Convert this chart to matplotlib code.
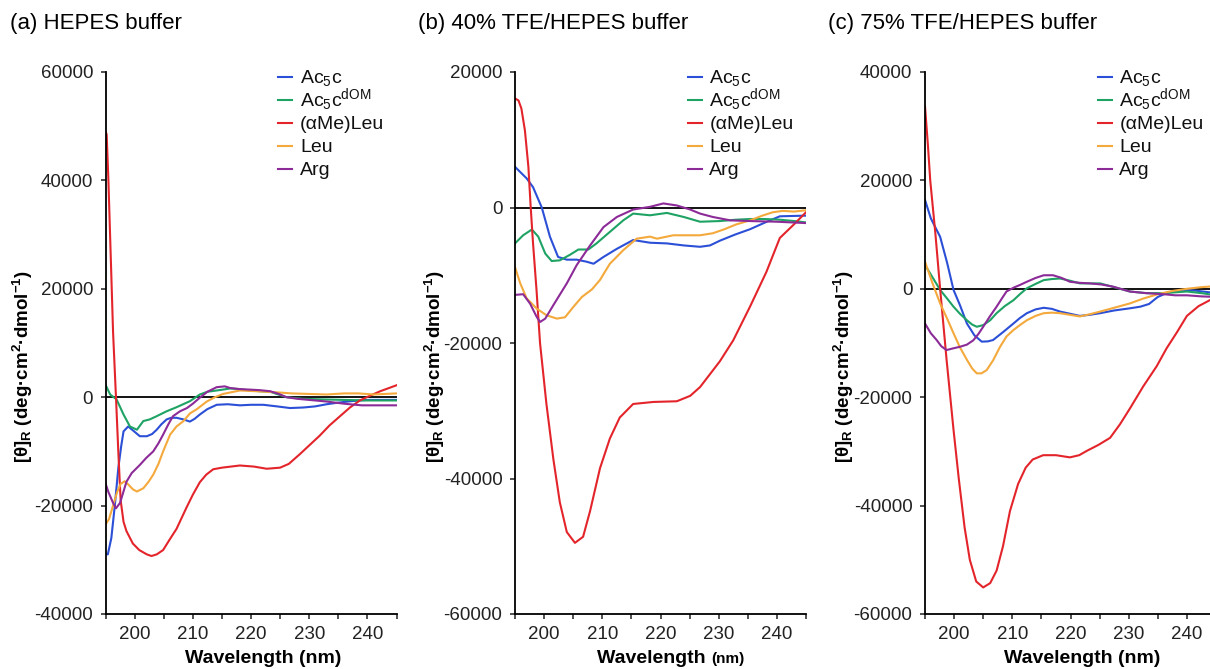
import matplotlib
matplotlib.use('Agg')
import matplotlib.pyplot as plt
from matplotlib.ticker import MultipleLocator, FuncFormatter

plt.rcParams['font.family'] = ['Liberation Sans', 'DejaVu Sans']
plt.rcParams['mathtext.fontset'] = 'custom'
plt.rcParams['mathtext.rm'] = 'Liberation Sans'
plt.rcParams['mathtext.it'] = 'Liberation Sans:italic'
plt.rcParams['mathtext.bf'] = 'Liberation Sans:bold'
plt.rcParams['axes.unicode_minus'] = False

# ---- data (wavelength nm, [theta]R) ----
SERIES = ['Ac$_5$c', 'Ac$_5$c$^{\\mathrm{dOM}}$', '(αMe)Leu', 'Leu', 'Arg']
COLORS = ['#2b4fd6', '#1ea364', '#e3252b', '#f4a93c', '#8c2b98']

# (a) HEPES buffer
a_ac5c_x = [195, 195.4, 196, 196.6, 197.2, 197.7, 198.1, 198.9, 199.8, 200.9, 202.1, 203.0, 203.8, 204.6,
            205.5, 206.3, 207.2, 208.4, 209.5, 210.3, 211.2, 212.5, 214.1, 216, 218.1, 220, 222.1, 224.5,
            226.7, 229, 231, 233, 235, 237.5, 240, 242.5, 245]
a_ac5c_y = [-28900, -29000, -26000, -20000, -13100, -9000, -6300, -5400, -6200, -7200, -7200, -6800, -6000,
            -5000, -4100, -3800, -3800, -4100, -4500, -4000, -3200, -2200, -1400, -1300, -1500, -1400, -1400,
            -1700, -2000, -1900, -1700, -1300, -1000, -700, -500, -500, -500]
a_dom_x = [195, 195.8, 196.9, 198.1, 199.2, 200.4, 201.5, 202.6, 203.8, 205.5, 207.2, 209.5, 211.2, 212.5,
           214.1, 216.4, 218, 219.8, 221.5, 223.3, 226.1, 229, 232, 236, 240, 245]
a_dom_y = [2300, 500, -400, -3200, -5400, -6000, -4400, -4100, -3500, -2600, -1850, -740, 500, 1000,
           1240, 1600, 1500, 1240, 1100, 1000, 0, -300, -400, -500, -600, -600]
a_meleu_x = [195, 195.2, 195.5, 195.9, 196.3, 196.8, 197.2, 197.6, 198.1, 198.6, 199.7, 200.8, 202.1, 202.9,
             203.8, 204.9, 206, 207.2, 208.9, 210, 211.2, 212.3, 213.5, 215, 218.1, 220.5, 222.7, 225,
             226.5, 228.4, 230, 231.8, 233.5, 235.3, 237, 238.7, 240.5, 242.2, 245]
a_meleu_y = [49000, 48500, 40000, 26000, 12000, 0, -10000, -19000, -23000, -24700, -27000, -28200, -29000,
             -29300, -29000, -28200, -26300, -24300, -20400, -18000, -15700, -14300, -13300, -13000, -12600,
             -12800, -13200, -13000, -12300, -10500, -8900, -7100, -5200, -3500, -1900, -600, 300, 1100, 2200]
a_leu_x = [195, 195.6, 196.3, 197, 197.6, 198.3, 199, 199.7, 200.4, 201.5, 202.4, 203.2, 204.1, 204.9,
           206.1, 207.2, 208.4, 209.5, 210.7, 212.4, 213.8, 215.2, 218.1, 221, 224.4, 227, 230, 233,
           236, 238.5, 241, 245]
a_leu_y = [-23500, -22500, -20000, -17500, -16000, -15500, -16200, -17000, -17400, -16800, -15600, -14300,
           -12300, -10000, -6900, -5400, -4400, -3000, -2200, -800, 0, 600, 1240, 1100, 900, 700, 600, 500,
           700, 700, 500, 700]
a_arg_x = [195, 195.5, 196.3, 196.8, 197.5, 198.6, 199.5, 200.9, 202, 203.2, 204.1, 204.9, 205.8, 206.6,
           207.8, 209, 210, 211.2, 212.5, 214.1, 215.5, 216.4, 218, 219.8, 221.5, 223.3, 224.8, 226.1,
           228, 230, 233, 236, 239, 242, 245]
a_arg_y = [-15900, -17500, -19500, -20500, -19500, -15600, -14000, -12500, -11200, -10000, -8500, -6900,
           -5000, -3500, -2600, -2000, -1200, -100, 1000, 1850, 2000, 1700, 1500, 1400, 1300, 1100, 600, 0,
           -300, -500, -800, -1200, -1500, -1500, -1500]

# (b) 40% TFE/HEPES buffer
b_ac5c_x = [195, 197, 198.1, 199.6, 201, 202.4, 203.9, 205.6, 207.3, 208.5, 210.2, 212.5, 215.3, 218.2,
            221.1, 224, 226.8, 228.5, 230.2, 232.8, 235.4, 238, 240.5, 245]
b_ac5c_y = [6000, 4300, 3000, 0, -4300, -7300, -7700, -7700, -8000, -8300, -7300, -6100, -4800, -5200,
            -5300, -5600, -5800, -5600, -4900, -4000, -3200, -2200, -1300, -1200]
b_dom_x = [195, 196.4, 197.9, 199, 200.2, 201.3, 202.7, 204.4, 205.9, 207.6, 209, 211.3, 213.6, 215.3,
           218.2, 221.1, 224, 226.8, 230.2, 233, 235.4, 238, 240.5, 243, 245]
b_dom_y = [-5300, -4100, -3250, -4300, -6800, -7900, -7800, -7000, -6200, -6200, -5300, -3600, -1900, -900,
           -1150, -800, -1400, -2100, -2000, -1800, -1700, -1700, -1800, -2000, -2200]
b_meleu_x = [195, 195.6, 196.1, 196.7, 197.3, 197.7, 198.1, 198.7, 199.3, 200.4, 201.6, 202.7, 203.9, 205.3,
             206.7, 207.9, 209.6, 211.3, 213, 215.3, 218.8, 222.8, 225.1, 226.8, 230.2, 232.5, 235.4, 238.2,
             240.5, 242.8, 245]
b_meleu_y = [16100, 15800, 14600, 11400, 6000, 0, -5300, -12200, -20000, -29000, -37200, -43500, -47900,
             -49500, -48600, -44800, -38500, -34100, -31000, -29000, -28700, -28600, -27800, -26500, -22700,
             -19600, -14600, -9500, -4500, -2600, -700]
b_leu_x = [195, 195.9, 197, 198.7, 200.4, 202.2, 203.6, 205, 206.5, 208.2, 209.6, 211.3, 213.6, 215.9,
           218.2, 219.4, 222.2, 224.5, 226.8, 229, 231, 233, 235.4, 237.5, 239.3, 241, 243, 245]
b_leu_y = [-8800, -11200, -13400, -14900, -15900, -16400, -16200, -14700, -13200, -12100, -10700, -8300,
           -6300, -4600, -4300, -4600, -4100, -4100, -4100, -3800, -3200, -2500, -1900, -1200, -700, -500,
           -600, -400]
b_arg_x = [195, 196.4, 197.6, 198.7, 199.3, 200.2, 201.6, 203.9, 205.6, 207.9, 210.2, 212.5, 215.3, 218.2,
           220.5, 222.8, 225.1, 226.8, 229, 232, 235.4, 240, 245]
b_arg_y = [-12900, -12800, -14200, -16100, -16900, -16400, -14400, -11200, -8500, -5600, -2900, -1400, -300,
           100, 600, 300, -300, -900, -1400, -1900, -2000, -2100, -2300]

# (c) 75% TFE/HEPES buffer
c_ac5c_x = [195, 196, 197.6, 198.8, 199.9, 201, 202.2, 203.5, 204.75, 205.8, 206.7, 208.4, 210.2, 211.3,
            212.5, 214, 215.4, 216.8, 218.2, 219.9, 221.6, 223.3, 225.1, 227.5, 230.2, 232, 233.5, 235,
            236.5, 238, 240, 242, 245]
c_ac5c_y = [16400, 13000, 9600, 4800, -200, -3000, -6400, -8600, -9750, -9700, -9450, -8000, -6400, -5400,
            -4500, -3800, -3500, -3700, -4200, -4600, -5000, -4800, -4500, -4000, -3600, -3300, -2800, -1500,
            -800, -400, -200, -400, -800]
c_dom_x = [195, 196.3, 197.6, 198.8, 199.9, 201, 202.2, 203.1, 203.9, 205, 206.2, 207.3, 208.7, 210.2,
           211.3, 212.5, 214, 215.4, 216.8, 218.2, 219.9, 221.6, 223.3, 225.1, 227.5, 230.2, 233, 236, 240,
           242.5, 245]
c_dom_y = [4400, 2100, -200, -1800, -3300, -4600, -5800, -6600, -7000, -6700, -5800, -4500, -3200, -2100,
           -1000, 100, 900, 1600, 1800, 1900, 1500, 1000, 1000, 1000, 300, -500, -800, -800, -500, -800,
           -1200]
c_meleu_x = [195, 195.5, 195.9, 196.8, 197.6, 198.7, 199.9, 200.8, 201.8, 202.7, 203.8, 205, 206.2, 207.3,
             208.4, 209.6, 211, 212.3, 213.5, 215.3, 217.5, 219.9, 221.5, 222.8, 224.8, 226.8, 228.5, 230.2,
             232.5, 234.8, 236.5, 238.3, 240, 242, 245]
c_meleu_y = [33700, 26500, 20000, 10000, 0, -13000, -26000, -35000, -44000, -50000, -54000, -55100, -54300,
             -52000, -47500, -41000, -36000, -33000, -31500, -30700, -30700, -31100, -30700, -29900, -28800,
             -27500, -25000, -22100, -18000, -14300, -11000, -8000, -5000, -3200, -1500]
c_leu_x = [195, 196.3, 197.6, 198.8, 199.9, 201, 202.2, 203.1, 203.9, 204.7, 205.6, 206.7, 207.9, 209,
           210.2, 211.3, 212.5, 214, 215.4, 216.8, 218.2, 219.9, 221.6, 223.3, 225.1, 227.5, 230.2, 232.5,
           235, 237.5, 240, 242.5, 245]
c_leu_y = [5000, 1000, -2700, -5500, -8200, -10800, -13100, -14700, -15600, -15600, -15000, -13200, -10700,
           -8800, -7600, -6700, -5800, -5000, -4500, -4400, -4500, -4800, -5100, -4700, -4200, -3500, -2700,
           -1800, -1000, -400, 0, 300, 500]
c_arg_x = [195, 196, 197, 197.8, 198.7, 199.8, 201, 202.2, 203.3, 204.2, 205, 206.2, 207.3, 208.2, 209,
           210.2, 211.3, 212.5, 214, 215.4, 217, 218.5, 219.9, 221.6, 223.3, 225.3, 227.3, 230.2, 233, 236,
           238, 240, 242.5, 245]
c_arg_y = [-6400, -8200, -9450, -10600, -11300, -11000, -10700, -10300, -9500, -8300, -7000, -5000, -3300,
           -1800, -500, 200, 700, 1300, 2000, 2500, 2500, 2000, 1300, 1100, 1000, 800, 400, -500, -800,
           -1000, -1200, -1200, -1400, -1500]

PANELS = [
    {'title': '(a) HEPES buffer', 'ylim': (-40000, 60000), 'left': 105.5, 'title_x': 10, 'ylab_x': -0.242,
     'small_nm': False,
     'curves': [(a_ac5c_x, a_ac5c_y), (a_dom_x, a_dom_y), (a_meleu_x, a_meleu_y),
                (a_leu_x, a_leu_y), (a_arg_x, a_arg_y)]},
    {'title': '(b) 40% TFE/HEPES buffer', 'ylim': (-60000, 20000), 'left': 515, 'title_x': 418, 'ylab_x': -0.232,
     'small_nm': True,
     'curves': [(b_ac5c_x, b_ac5c_y), (b_dom_x, b_dom_y), (b_meleu_x, b_meleu_y),
                (b_leu_x, b_leu_y), (b_arg_x, b_arg_y)]},
    {'title': '(c) 75% TFE/HEPES buffer', 'ylim': (-60000, 40000), 'left': 925, 'title_x': 828, 'ylab_x': -0.236,
     'small_nm': False,
     'curves': [(c_ac5c_x, c_ac5c_y), (c_dom_x, c_dom_y), (c_meleu_x, c_meleu_y),
                (c_leu_x, c_leu_y), (c_arg_x, c_arg_y)]},
]

W, H = 1210, 669
AX_PX_W, AX_TOP, AX_BOT = 291, 72, 614
fig = plt.figure(figsize=(W / 100, H / 100), dpi=100)

ax_w = AX_PX_W / W
ax_b = (H - AX_BOT) / H
ax_h = (AX_BOT - AX_TOP) / H
ax_hpx = AX_BOT - AX_TOP


def xfmt(v, pos):
    return f'{int(round(v))}' if int(round(v)) % 10 == 0 else ''


def px_y(py):
    # figure pixel row -> axes fraction
    return (AX_BOT - py) / ax_hpx


axes = []
for p in PANELS:
    ax = fig.add_axes([p['left'] / W, ax_b, ax_w, ax_h])
    axes.append(ax)
    ax.axhline(0, color='black', lw=1.3, zorder=1.5)
    for (xs, ys), name, col in zip(p['curves'], SERIES, COLORS):
        ax.plot(xs, ys, color=col, lw=1.5, zorder=2)
    ax.set_xlim(195, 245)
    ax.set_ylim(*p['ylim'])
    ax.xaxis.set_major_locator(MultipleLocator(5))
    ax.xaxis.set_major_formatter(FuncFormatter(xfmt))
    ax.yaxis.set_major_locator(MultipleLocator(20000))
    ax.yaxis.set_major_formatter(FuncFormatter(lambda v, pos: f'{int(v)}'))
    for s in ['top', 'right']:
        ax.spines[s].set_visible(False)
    for s in ['left', 'bottom']:
        ax.spines[s].set_linewidth(1.3)
    ax.tick_params(direction='out', length=3.5, width=1.1, labelsize=13.5, colors='#222222')
    ax.tick_params(axis='y', pad=5.5)
    ax.tick_params(axis='x', pad=5)

    # x label, drawn as text on a fixed baseline (panel b has a smaller "(nm)")
    if p['small_nm']:
        t1 = ax.text(0.282, px_y(663), 'Wavelength ', transform=ax.transAxes, fontsize=14,
                     fontweight='bold', ha='left', va='baseline')
        p['_xl'] = t1
    else:
        ax.text(0.541, px_y(663), 'Wavelength (nm)', transform=ax.transAxes, fontsize=14,
                fontweight='bold', ha='center', va='baseline')

    ax.set_ylabel(r'[θ]$_{\mathbf{R}}$ (deg·cm$^{\mathbf{2}}$·dmol$^{\mathbf{-1}}$)',
                  fontsize=13.5, fontweight='bold')
    ax.yaxis.set_label_coords(p['ylab_x'], px_y(367))

    # legend drawn as short line handles + labels
    for i, (name, col) in enumerate(zip(SERIES, COLORS)):
        yc = 77 + i * 23
        ax.plot([0.593, 0.641], [px_y(yc), px_y(yc)], transform=ax.transAxes, color=col,
                lw=1.5, clip_on=False)
        ax.text(0.668, px_y(yc + 6), name, transform=ax.transAxes, fontsize=14,
                ha='left', va='baseline', color='#111111')

    fig.text(p['title_x'] / W, 1 - 24 / H, p['title'], fontsize=16, va='center', ha='left')

# place the small "(nm)" right after "Wavelength " in panel b
fig.canvas.draw()
renderer = fig.canvas.get_renderer()
for p, ax in zip(PANELS, axes):
    if p['small_nm']:
        bb = p['_xl'].get_window_extent(renderer)
        x_ax = ax.transAxes.inverted().transform((bb.x1, bb.y0))[0]
        ax.text(x_ax, px_y(663), '(nm)', transform=ax.transAxes, fontsize=11,
                fontweight='bold', ha='left', va='baseline')

fig.savefig('out.png', dpi=100)
